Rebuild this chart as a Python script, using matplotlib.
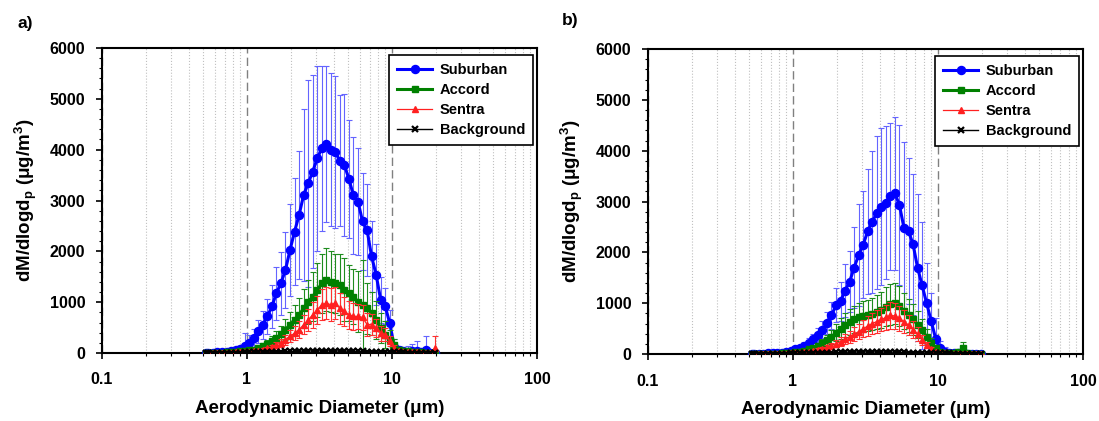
import matplotlib
matplotlib.use("Agg")
from matplotlib import pyplot as plt
from matplotlib.ticker import MultipleLocator, LogLocator, NullFormatter
import numpy as np

plt.rcParams["font.family"] = ["Liberation Sans", "DejaVu Sans"]
plt.rcParams["font.weight"] = "bold"
plt.rcParams["axes.labelweight"] = "bold"
plt.rcParams["mathtext.fontset"] = "custom"
plt.rcParams["mathtext.rm"] = "Liberation Sans:bold"
plt.rcParams["mathtext.it"] = "Liberation Sans:bold"
plt.rcParams["mathtext.bf"] = "Liberation Sans:bold"

# APS channel midpoints (um)
diam = [0.523, 0.542, 0.583, 0.626, 0.673, 0.723, 0.777, 0.835, 0.898, 0.965,
        1.037, 1.114, 1.197, 1.286, 1.382, 1.486, 1.596, 1.715, 1.843, 1.981,
        2.129, 2.288, 2.458, 2.642, 2.839, 3.051, 3.278, 3.523, 3.786, 4.068,
        4.371, 4.698, 5.048, 5.425, 5.829, 6.264, 6.732, 7.234, 7.774, 8.354,
        8.977, 9.647, 10.37, 11.14, 11.97, 12.86, 13.82, 14.86, 15.96, 17.15,
        18.43, 19.81]

# panel a
sub_a = [5, 7, 10, 14, 20, 28, 40, 58, 85, 131, 196, 294, 425, 556, 720, 916, 1178, 1374,
         1635, 2028, 2389, 2715, 3108, 3337, 3566, 3828, 4024, 4110, 4000, 3950, 3780, 3700,
         3420, 3100, 2980, 2590, 2420, 1900, 1540, 1050, 920, 590, 120, 50, 30, 25, 30, 30,
         15, 60, 10, 8]
sub_a_sd = [3, 4, 6, 8, 10, 14, 20, 30, 60, 260, 150, 180, 220, 280, 350, 420, 520, 620,
            750, 900, 1050, 1250, 1700, 2030, 1900, 1820, 1630, 1540, 1500, 1500, 1290, 1400,
            1160, 1150, 1050, 950, 900, 700, 600, 450, 350, 250, 150, 80, 60, 120, 150, 200,
            60, 270, 40, 30]
acc_a = [3, 4, 5, 7, 9, 12, 16, 22, 30, 40, 50, 65, 100, 130, 175, 230, 295, 370, 460, 560,
         650, 750, 880, 1010, 1110, 1240, 1370, 1440, 1400, 1370, 1340, 1240, 1180, 1110, 1010,
         950, 880, 780, 650, 490, 360, 250, 150, 60, 40, 30, 20, 15, 12, 10, 8, 6]
acc_a_sd = [2, 2, 3, 4, 5, 6, 8, 10, 14, 18, 22, 30, 45, 60, 80, 100, 130, 160, 200, 240,
            290, 330, 380, 430, 480, 530, 580, 620, 600, 580, 600, 620, 560, 540, 600, 880,
            500, 420, 380, 300, 260, 200, 120, 60, 40, 30, 30, 30, 20, 15, 10, 8]
sen_a = [3, 3, 4, 5, 6, 8, 10, 13, 17, 22, 28, 36, 48, 65, 92, 118, 165, 200, 260, 330, 390,
         460, 556, 650, 750, 850, 950, 980, 950, 980, 880, 820, 750, 720, 720, 700, 560, 560,
         490, 390, 360, 230, 90, 40, 25, 20, 15, 15, 10, 10, 10, 100]
sen_a_sd = [2, 2, 2, 3, 3, 4, 5, 6, 8, 10, 12, 15, 20, 25, 35, 45, 60, 75, 95, 115, 135, 160,
            190, 220, 250, 280, 310, 320, 320, 310, 300, 290, 270, 260, 250, 240, 220, 200,
            180, 150, 130, 100, 60, 30, 20, 15, 15, 15, 10, 10, 10, 230]
bg_a = [3, 3, 4, 4, 5, 6, 7, 8, 10, 12, 14, 16, 18, 20, 22, 24, 26, 28, 30, 32, 34, 36, 38,
        40, 41, 42, 43, 43, 42, 41, 40, 38, 36, 34, 32, 30, 28, 26, 24, 22, 20, 18, 16, 14,
        12, 10, 9, 8, 7, 6, 5, 5]

# panel b
sub_b = [5, 6, 8, 10, 12, 15, 20, 30, 45, 65, 90, 120, 160, 220, 290, 370, 480, 610, 760,
         960, 1040, 1250, 1420, 1700, 1950, 2150, 2420, 2600, 2780, 2900, 2980, 3100, 3160,
         2930, 2480, 2420, 2160, 1700, 1350, 1000, 650, 300, 110, 50, 30, 20, 15, 15, 10, 8,
         6, 5]
sub_b_sd = [2, 3, 3, 4, 5, 6, 8, 12, 18, 25, 35, 50, 70, 90, 110, 140, 170, 210, 260, 330,
            380, 530, 600, 800, 1000, 1050, 1230, 1400, 1500, 1550, 1500, 1450, 1500, 1570,
            1700, 1430, 1390, 1450, 1250, 800, 550, 400, 150, 80, 40, 30, 30, 20, 20, 15, 10, 8]
acc_b = [3, 3, 4, 5, 6, 8, 10, 13, 17, 25, 35, 50, 70, 90, 120, 160, 210, 270, 340, 420, 500,
         570, 630, 680, 720, 740, 760, 790, 830, 870, 930, 980, 1000, 940, 850, 760, 680, 580,
         470, 340, 210, 110, 50, 30, 20, 15, 40, 110, 20, 10, 8, 5]
acc_b_sd = [2, 2, 2, 3, 3, 4, 5, 6, 8, 10, 14, 20, 28, 36, 48, 64, 84, 108, 136, 168, 200,
            228, 252, 272, 290, 300, 310, 320, 340, 360, 380, 400, 400, 390, 360, 330, 300,
            260, 210, 160, 100, 60, 30, 20, 15, 10, 30, 120, 15, 10, 8, 5]
sen_b = [2, 2, 3, 3, 4, 5, 6, 8, 11, 15, 20, 28, 38, 50, 65, 80, 100, 130, 165, 200, 245, 290,
         340, 390, 440, 500, 550, 600, 640, 680, 720, 760, 750, 700, 640, 570, 480, 400, 280,
         180, 95, 45, 20, 12, 10, 8, 8, 8, 6, 6, 5, 5]
sen_b_sd = [1, 1, 2, 2, 2, 3, 3, 4, 5, 6, 8, 10, 14, 18, 24, 30, 36, 46, 58, 70, 85, 100, 120,
            135, 150, 170, 190, 205, 220, 235, 250, 265, 260, 245, 225, 200, 170, 140, 100,
            65, 35, 18, 10, 6, 5, 4, 4, 4, 3, 3, 3, 3]
bg_b = [3, 3, 4, 4, 5, 6, 7, 8, 10, 12, 14, 16, 18, 20, 22, 24, 26, 28, 30, 32, 34, 36, 38,
        40, 41, 42, 43, 43, 42, 41, 40, 38, 36, 34, 32, 30, 28, 26, 24, 22, 20, 18, 16, 14,
        12, 10, 9, 8, 7, 6, 5, 5]

panels = [
    ("a)", sub_a, sub_a_sd, acc_a, acc_a_sd, sen_a, sen_a_sd, bg_a),
    ("b)", sub_b, sub_b_sd, acc_b, acc_b_sd, sen_b, sen_b_sd, bg_b),
]
axes_pos = [[0.0928, 0.1615, 0.3958, 0.7245], [0.5896, 0.159, 0.3958, 0.7245]]
tag_pos = [(0.0155, 0.962), (0.511, 0.968)]

fig = plt.figure(figsize=(10.99, 4.21), dpi=100)

for k, (tag, sub, sub_sd, acc, acc_sd, sen, sen_sd, bg) in enumerate(panels):
    ax = fig.add_axes(axes_pos[k])
    ax.set_xscale("log")

    ax.errorbar(diam, sub, yerr=sub_sd, fmt="none", ecolor="#6464ff", elinewidth=0.8,
                capsize=2.5, capthick=0.8, zorder=2)
    l1, = ax.plot(diam, sub, color="#0000ff", lw=2.2, marker="o", ms=5.8, zorder=3,
                  label="Suburban")
    ax.errorbar(diam, acc, yerr=acc_sd, fmt="none", ecolor="#1e8c1e", elinewidth=0.8,
                capsize=2.5, capthick=0.8, zorder=4)
    l2, = ax.plot(diam, acc, color="#008000", lw=2.2, marker="s", ms=4.5, zorder=5,
                  label="Accord")
    ax.errorbar(diam, sen, yerr=sen_sd, fmt="none", ecolor="#ff3030", elinewidth=0.8,
                capsize=2.5, capthick=0.8, zorder=6)
    l3, = ax.plot(diam, sen, color="#ff2020", lw=0.9, marker="^", ms=5, zorder=7,
                  label="Sentra")
    l4, = ax.plot(diam, bg, color="black", lw=1.0, marker="x", ms=4.5, mew=1.6, zorder=8,
                  label="Background")

    ax.set_xlim(0.1, 100)
    ax.set_ylim(0, 6000)
    ax.set_xticks([0.1, 1, 10, 100])
    ax.set_xticklabels(["0.1", "1", "10", "100"])
    ax.xaxis.set_minor_locator(LogLocator(base=10, subs=np.arange(2, 10)))
    ax.xaxis.set_minor_formatter(NullFormatter())
    ax.yaxis.set_major_locator(MultipleLocator(1000))
    ax.yaxis.set_minor_locator(MultipleLocator(200))

    ax.grid(which="minor", axis="x", ls=":", color="#c0c0c0", lw=0.8)
    ax.grid(which="major", axis="x", ls=(0, (6, 3)), color="#808080", lw=1.0)
    ax.set_axisbelow(True)

    ax.tick_params(which="major", direction="out", length=4, width=1.2, labelsize=11.5)
    ax.tick_params(axis="x", which="major", pad=10)
    ax.tick_params(axis="y", which="major", pad=8)
    ax.tick_params(which="minor", direction="out", length=2.5, width=0.8)
    for s in ax.spines.values():
        s.set_linewidth(1.5)

    ax.set_xlabel("Aerodynamic Diameter (μm)", fontsize=13.5)
    ax.xaxis.set_label_coords(0.5, -0.155)
    ax.set_ylabel(r"dM/dlogd$_\mathrm{p}$ (μg/m$^\mathrm{3}$)", fontsize=13.5)
    ax.yaxis.set_label_coords(-0.145, 0.5)

    leg = ax.legend(handles=[l1, l2, l3, l4], loc="upper right", bbox_to_anchor=(0.991, 0.978),
                    borderaxespad=0, fontsize=10.5, frameon=True, fancybox=False,
                    edgecolor="black", framealpha=1, handlelength=2.4, handletextpad=0.5,
                    labelspacing=0.42, borderpad=0.55)
    leg.get_frame().set_linewidth(1.2)
    for t in leg.get_texts():
        t.set_fontweight("bold")

    fig.text(tag_pos[k][0], tag_pos[k][1], tag, fontsize=12.5, fontweight="bold",
             ha="left", va="top")

fig.savefig("out.png", dpi=100)
